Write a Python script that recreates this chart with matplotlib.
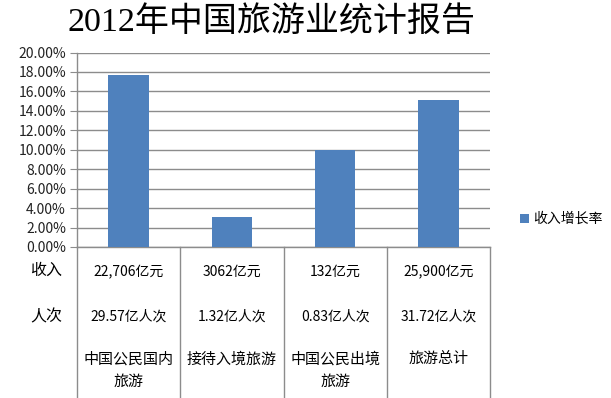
import matplotlib
matplotlib.use("Agg")
import matplotlib.pyplot as plt
import matplotlib.transforms as mtransforms
import numpy as np
from matplotlib.ticker import PercentFormatter

plt.rcParams["font.family"] = ["Noto Sans CJK SC", "DejaVu Sans"]

categories = ["中国公民国内\n旅游", "接待入境旅游", "中国公民出境\n旅游", "旅游总计"]
growth = [0.1764, 0.031, 0.0995, 0.1515]
revenue = ["22,706亿元", "3062亿元", "132亿元", "25,900亿元"]
visitors = ["29.57亿人次", "1.32亿人次", "0.83亿人次", "31.72亿人次"]
row_labels = ["收入", "人次"]
series_name = "收入增长率"
title = "2012年中国旅游业统计报告"

BLUE = "#4F81BD"
GRID = "#8C8C8C"

W, H = 611, 398
fig = plt.figure(figsize=(W / 100, H / 100), dpi=100)
fig.patch.set_facecolor("white")


def fy(py):
    return 1 - py / H


ax = fig.add_axes([77 / W, fy(247), (490 - 77) / W, (247 - 52.5) / H])
xs = np.arange(len(categories))
ax.bar(xs, growth, 0.39, color=BLUE, zorder=3, label=series_name)
ax.set_xlim(-0.5, len(categories) - 0.5)
ax.set_ylim(0, 0.20)
ax.set_yticks(np.arange(0, 0.2001, 0.02))
ax.yaxis.set_major_formatter(PercentFormatter(1.0, decimals=2))
ax.tick_params(axis="y", length=5, color=GRID, labelsize=10, labelcolor="#222222", pad=3)
ax.set_xticks([])
ax.grid(axis="y", color=GRID, linewidth=1, zorder=0)
for s in ("top", "right"):
    ax.spines[s].set_visible(False)
for s in ("left", "bottom"):
    ax.spines[s].set_color(GRID)
    ax.spines[s].set_linewidth(1)

# table under the axis
tr = mtransforms.blended_transform_factory(ax.transData, fig.transFigure)
for b in np.arange(-0.5, len(categories), 1.0):
    ax.plot([b, b], [fy(247), 0], transform=tr, color=GRID, lw=1, clip_on=False)

for i, (rev, vis, name) in enumerate(zip(revenue, visitors, categories)):
    ax.text(i, fy(272), rev, transform=tr, ha="center", va="center", fontsize=10)
    ax.text(i, fy(317), vis, transform=tr, ha="center", va="center", fontsize=10)
    for j, line in enumerate(name.split("\n")):
        ax.text(i, fy(359 + 23 * j), line, transform=tr, ha="center", va="center", fontsize=10.8)

for k, lab in enumerate(row_labels):
    fig.text(46 / W, fy(270 + 47 * k), lab, ha="center", va="center", fontsize=11.5)

ax.legend(loc="center left", bbox_to_anchor=(508 / W, fy(219)), bbox_transform=fig.transFigure,
          frameon=False, handlelength=0.6, handleheight=0.6, handletextpad=0.3, fontsize=10)

fig.text(271 / W, fy(22), title, ha="center", va="center", fontsize=24.5,
         family=["Liberation Serif", "Noto Sans CJK SC"])

fig.savefig("out.png", dpi=100)
